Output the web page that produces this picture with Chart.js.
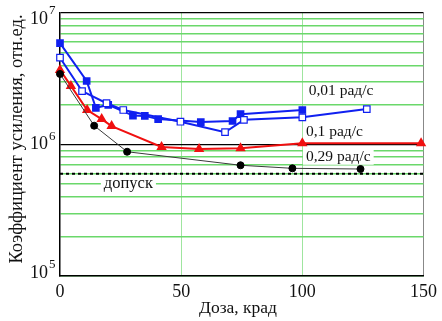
<!DOCTYPE html>
<html lang="ru">
<head>
  <meta charset="UTF-8" />
  <title>Коэффициент усиления</title>
  <script src="https://cdn.jsdelivr.net/npm/chart.js"></script>
  <style>
    body { margin: 0; background: #fff; }
    #wrap { width: 442px; height: 321px; }
  </style>
</head>
<body>
  <div id="wrap"><canvas id="gainChart" width="442" height="321"></canvas></div>

  <script>
    // доза, крад / коэффициент усиления
    const doseFilled = [0, 11, 14.8, 19.9, 30.1, 35, 40.5, 58.1, 71.2, 74.5, 100];
    const gainFilled = [5.9e6, 3.04e6, 1.9e6, 2.0e6, 1.66e6, 1.65e6, 1.56e6, 1.48e6, 1.51e6, 1.7e6, 1.83e6];

    const doseOpen = [0, 9.1, 19.2, 26.1, 49.7, 68.1, 75.9, 100, 126.6];
    const gainOpen = [4.57e6, 2.55e6, 2.06e6, 1.83e6, 1.49e6, 1.24e6, 1.54e6, 1.61e6, 1.86e6];

    const doseRed = [0, 4.5, 11.2, 17.2, 21.3, 41.9, 57.4, 74.5, 100, 149];
    const gainRed = [3.69e6, 2.79e6, 1.83e6, 1.56e6, 1.38e6, 9.57e5, 9.25e5, 9.35e5, 1.02e6, 1.02e6];

    const doseBlack = [0, 14.1, 27.7, 74.5, 95.9, 124];
    const gainBlack = [3.44e6, 1.39e6, 8.81e5, 6.95e5, 6.59e5, 6.51e5];

    const doseLimit = [0, 150];
    const gainLimit = [6e5, 6e5];

    const xTicks = [0, 50, 100, 150];
    const yMajor = [1e5, 1e6, 1e7];
    const yTicks = [1e5, 2e5, 3e5, 4e5, 5e5, 6e5, 7e5, 8e5, 9e5,
                    1e6, 2e6, 3e6, 4e6, 5e6, 6e6, 7e6, 8e6, 9e6, 1e7];

    const seriesLabels = ['0,01 рад/с', '0,1 рад/с', '0,29 рад/с', 'допуск'];
    const xTitle = 'Доза, крад';
    const yTitle = 'Коэффициент усиления, отн.ед.';

    const pts = (xs, ys) => xs.map((x, i) => ({ x, y: ys[i] }));
    const SERIF = '"Liberation Serif", "Times New Roman", serif';

    // labels, superscript ticks and titles
    const textPlugin = {
      id: 'texts',
      beforeDatasetsDraw(chart) {
        const { ctx, scales: { x, y } } = chart;
        const spots = [
          [102.6, 2.55e6, 15.5], [101.5, 1.25e6, 15.5], [101.5, 8.07e5, 15.5], [18.1, 5.0e5, 16.5]
        ];
        ctx.save();
        ctx.textBaseline = 'middle';
        ctx.textAlign = 'left';
        seriesLabels.forEach((t, i) => {
          const [dx, dy, fs] = spots[i];
          ctx.font = fs + 'px ' + SERIF;
          const px = x.getPixelForValue(dx), py = y.getPixelForValue(dy);
          const w = ctx.measureText(t).width;
          ctx.fillStyle = '#fff';
          ctx.fillRect(px - 3, py - 8, w + 6, 16);
          ctx.fillStyle = '#111';
          ctx.fillText(t, px, py);
        });
        ctx.restore();
      },
      afterDraw(chart) {
        const { ctx, scales: { x, y } } = chart;
        ctx.save();
        ctx.fillStyle = '#111';
        ctx.textBaseline = 'middle';
        yMajor.forEach(v => {
          const py = y.getPixelForValue(v);
          const shift = v === 1e7 ? 6 : (v === 1e5 ? -3 : 0);
          ctx.font = '18px ' + SERIF;
          ctx.textAlign = 'right';
          ctx.fillText('10', 48, py + shift);
          ctx.font = '13px ' + SERIF;
          ctx.textAlign = 'left';
          ctx.fillText(String(Math.round(Math.log10(v))), 49, py + shift - 8);
        });
        ctx.font = '17.5px ' + SERIF;
        ctx.textAlign = 'center';
        ctx.fillText(xTitle, 238, 308);
        ctx.translate(17, 139);
        ctx.rotate(-Math.PI / 2);
        ctx.font = '18.5px ' + SERIF;
        ctx.fillText(yTitle, 0, 0);
        ctx.restore();
      }
    };

    const gridGreen = '#6ad86a';

    new Chart(document.getElementById('gainChart'), {
      type: 'line',
      data: {
        datasets: [
          { data: pts(doseLimit, gainLimit), borderColor: '#000', borderWidth: 2, borderDash: [3, 3], pointRadius: 0 },
          { data: pts(doseBlack, gainBlack), borderColor: '#3a3a3a', borderWidth: 1,
            pointStyle: 'circle', pointRadius: 3.5, pointBackgroundColor: '#000', pointBorderColor: '#000' },
          { data: pts(doseRed, gainRed), borderColor: '#f01010', borderWidth: 2,
            pointStyle: 'triangle', pointRadius: 4, pointBackgroundColor: '#f01010', pointBorderColor: '#f01010' },
          { data: pts(doseOpen, gainOpen), borderColor: '#1020f0', borderWidth: 2,
            pointStyle: 'rect', pointRadius: 4.6, pointBackgroundColor: '#fff', pointBorderColor: '#1020f0', pointBorderWidth: 1.2 },
          { data: pts(doseFilled, gainFilled), borderColor: '#1020f0', borderWidth: 2,
            pointStyle: 'rect', pointRadius: 4, pointBackgroundColor: '#1020f0', pointBorderColor: '#1020f0' }
        ]
      },
      options: {
        responsive: false,
        animation: false,
        clip: false,
        layout: { padding: { top: 13, right: 18, left: 0, bottom: 0 } },
        plugins: { legend: { display: false }, tooltip: { enabled: false } },
        elements: { line: { tension: 0 } },
        scales: {
          x: {
            type: 'linear', min: 0, max: 150,
            afterBuildTicks: s => { s.ticks = xTicks.map(value => ({ value })); },
            afterFit: s => { s.height = 45; },
            ticks: { color: '#111', font: { family: SERIF, size: 18 }, padding: 5, maxRotation: 0 },
            grid: {
              drawTicks: false,
              color: c => c.tick.value === 150 ? '#888' : (c.tick.value === 0 ? 'rgba(0,0,0,0)' : '#9fe59f'),
              lineWidth: 1
            },
            border: { color: '#000', width: 1.5 }
          },
          y: {
            type: 'logarithmic', min: 1e5, max: 1e7,
            afterBuildTicks: s => { s.ticks = yTicks.map(value => ({ value })); },
            afterFit: s => { s.width = 60; },
            ticks: { display: false },
            grid: {
              drawTicks: false,
              color: c => (c.tick.value === 1e6 || c.tick.value === 1e7) ? '#000' : gridGreen,
              lineWidth: c => (c.tick.value === 1e6 || c.tick.value === 1e7) ? 1.3 : 1.5
            },
            border: { color: '#000', width: 1.5 }
          }
        }
      },
      plugins: [textPlugin]
    });
  </script>
</body>
</html>
